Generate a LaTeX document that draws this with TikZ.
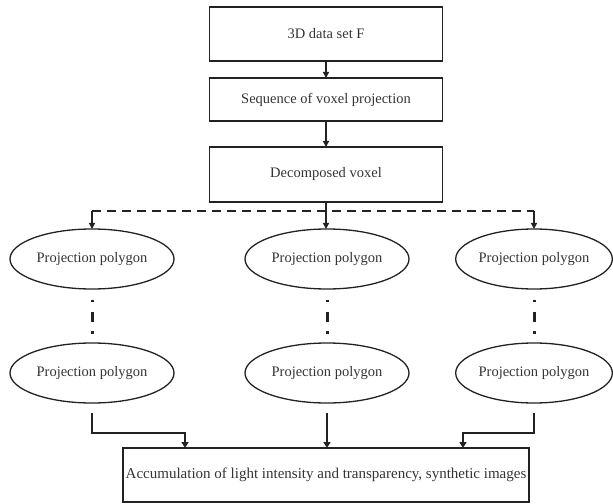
\documentclass[tikz,border=0pt]{standalone}
\usepackage{fontspec}
\setmainfont{Liberation Serif}
\usetikzlibrary{arrows.meta,shapes.geometric}
\definecolor{ink}{HTML}{222222}
\definecolor{txt}{HTML}{333333}
\tikzset{
  every node/.style={font=\fontsize{14.5bp}{17bp}\selectfont, text=txt},
  boxnode/.style={draw=ink, line width=1.3bp, rectangle, minimum width=233bp, inner sep=0pt, outer sep=0pt},
  ovalnode/.style={draw=ink, line width=1.3bp, ellipse, minimum height=60bp, inner sep=0pt, outer sep=0pt},
  thinarrow/.style={draw=ink, line width=1.5bp, -{Triangle[width=6bp,length=6bp]}},
  thickarrow/.style={draw=ink, line width=2.5bp, -{Triangle[width=7bp,length=6bp]}},
  dashline/.style={draw=ink, line width=1.5bp, dash pattern=on 9bp off 6bp},
  dotdash/.style={draw=ink, line width=3bp, dash pattern=on 0bp off 10.5bp on 2.5bp off 9.5bp on 10bp off 9.5bp on 2.5bp off 30bp}
}
\begin{document}
\begin{tikzpicture}[x=1bp, y=-1bp]
\useasboundingbox (0,0) rectangle (613,504);
% boxes
\node[boxnode, minimum height=54bp] (b1) at (326,34) {3D data set F};
\node[boxnode, minimum height=43bp] (b2) at (326,99.5) {Sequence of voxel projection};
\node[boxnode, minimum height=55bp] (b3) at (326,174.5) {\raisebox{3bp}{Decomposed voxel}};
% top ellipses
\node[ovalnode, minimum width=164bp] (e1) at (92,259) {Projection polygon};
\node[ovalnode, minimum width=164bp] (e2) at (327,259) {Projection polygon};
\node[ovalnode, minimum width=156bp] (e3) at (534,259) {Projection polygon};
% bottom ellipses
\node[ovalnode, minimum width=164bp] (e4) at (92,373) {Projection polygon};
\node[ovalnode, minimum width=164bp] (e5) at (327,373) {Projection polygon};
\node[ovalnode, minimum width=156bp] (e6) at (534,373) {Projection polygon};
% bottom box
\node[boxnode, minimum width=406bp, minimum height=54bp, font=\fontsize{15bp}{18bp}\selectfont] (b4) at (326,475) {Accumulation of light intensity and transparency, synthetic images};
% top connectors
\draw[thinarrow] (b1.south) -- (b2.north);
\draw[thinarrow] (b2.south) -- (b3.north);
\coordinate (dl) at (e1.north |- 0,211);
\coordinate (dr) at (e3.north |- 0,211);
\draw[dashline] (dl) -- (dr);
\draw[thinarrow] (dl) -- (e1.north);
\draw[thinarrow] (dr) -- (e3.north);
\draw[thinarrow] (b3.south) -- (b3.south |- e2.north);
% dot-dash vertical links
\draw[dotdash] (e1.south) -- (e4.north);
\draw[dotdash] (e2.south) -- (e5.north);
\draw[dotdash] (e3.south) -- (e6.north);
% bottom connectors
\coordinate (lt) at (185,448);
\coordinate (rt) at (463,448);
\draw[thickarrow, shorten <=10bp] (e4.south) -- (e4.south |- 0,433) -| (b4.north -| lt);
\draw[thickarrow, shorten <=10bp] (e5.south) -- (e5.south |- b4.north);
\draw[thickarrow, shorten <=10bp] (e6.south) -- (e6.south |- 0,433) -| (b4.north -| rt);
\end{tikzpicture}
\end{document}
